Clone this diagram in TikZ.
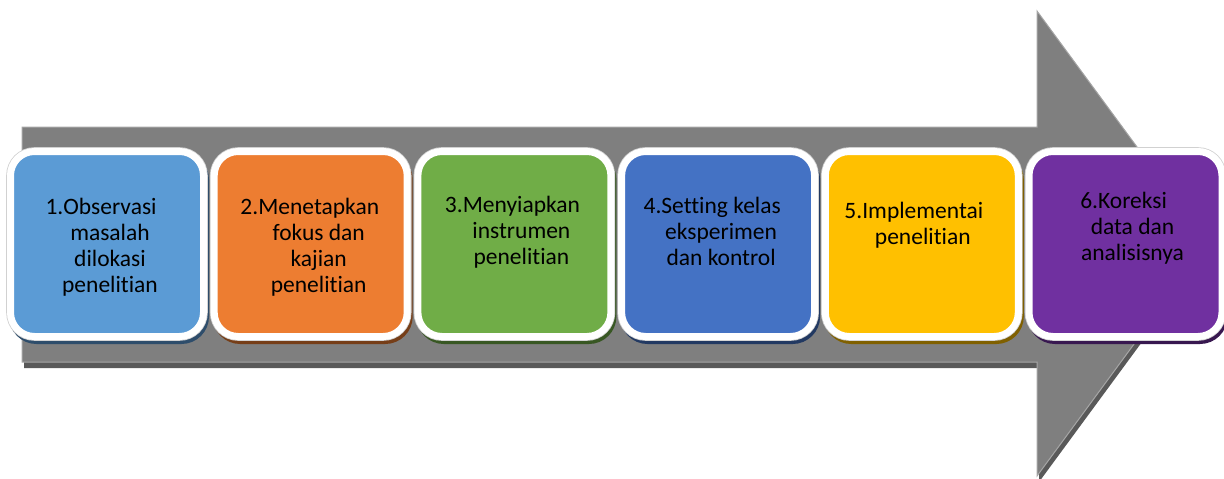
\documentclass[tikz,border=0pt]{standalone}
\usepackage{fontspec}
\setmainfont{Carlito}[Ligatures=NoCommon]
\usetikzlibrary{positioning}

\definecolor{stepblue}{HTML}{5B9BD5}
\definecolor{steporange}{HTML}{ED7D31}
\definecolor{stepgreen}{HTML}{70AD47}
\definecolor{stepdeep}{HTML}{4472C4}
\definecolor{stepgold}{HTML}{FFC000}
\definecolor{steppurple}{HTML}{7030A0}
\definecolor{arrowgrey}{HTML}{7F7F7F}

\tikzset{
  stepbox/.style={rounded corners=24pt, fill=#1, draw=white, line width=7pt,
    minimum width=193pt, minimum height=185pt,
    preaction={draw=#1!50!black, fill=#1!50!black, line width=7pt,
      transform canvas={shift={(2pt,-4pt)}}},
    preaction={draw=black!18, line width=8.6pt}},
  steptext/.style={font=\fontsize{23.5}{26}\selectfont, inner sep=0pt, anchor=base}
}

\begin{document}
\begin{tikzpicture}[x=1pt, y=-1pt]
    \useasboundingbox (0,0) rectangle (1224,479);

    % Big grey arrow
    \draw[fill=arrowgrey, draw=black!35, line width=1pt,
      preaction={fill=black!65, transform canvas={shift={(2pt,-6pt)}}}]
      (22,127) -- (1037,127) -- (1037,11) -- (1208,243.5) -- (1037,476)
      -- (1037,362) -- (22,362) -- cycle;

    % Steps
    \node[stepbox=stepblue] (b1) at (107,244) {};
    \node[stepbox=steporange, right=3.7pt of b1] (b2) {};
    \node[stepbox=stepgreen, right=3.7pt of b2] (b3) {};
    \node[stepbox=stepdeep, right=3.7pt of b3] (b4) {};
    \node[stepbox=stepgold, right=3.7pt of b4] (b5) {};
    \node[stepbox=steppurple, right=3.7pt of b5] (b6) {};

    % Labels
    \node[steptext] (t1) at ([xshift=3pt, yshift=-66pt]b1.north)
      {\begin{tabular}[t]{@{}c@{}}\llap{1.}Observasi\\masalah\\dilokasi\\penelitian\end{tabular}};
    \node[steptext] (t2) at ([xshift=8pt, yshift=-66pt]b2.north)
      {\begin{tabular}[t]{@{}c@{}}\llap{2.}Menetapkan\\fokus dan\\kajian\\penelitian\end{tabular}};
    \node[steptext] (t3) at ([xshift=7pt, yshift=-64pt]b3.north)
      {\begin{tabular}[t]{@{}c@{}}\llap{3.}Menyiapkan\\instrumen\\penelitian\end{tabular}};
    \node[steptext] (t4) at ([xshift=3pt, yshift=-65pt]b4.north)
      {\begin{tabular}[t]{@{}c@{}}\llap{4.}Setting kelas\\eksperimen\\dan kontrol\end{tabular}};
    \node[steptext] (t5) at ([xshift=1pt, yshift=-70pt]b5.north)
      {\begin{tabular}[t]{@{}c@{}}\llap{5.}Implementai\\penelitian\end{tabular}};
    \node[steptext] (t6) at ([xshift=7pt, yshift=-60pt]b6.north)
      {\begin{tabular}[t]{@{}c@{}}\llap{6.}Koreksi\\data dan\\analisisnya\end{tabular}};
\end{tikzpicture}
\end{document}
